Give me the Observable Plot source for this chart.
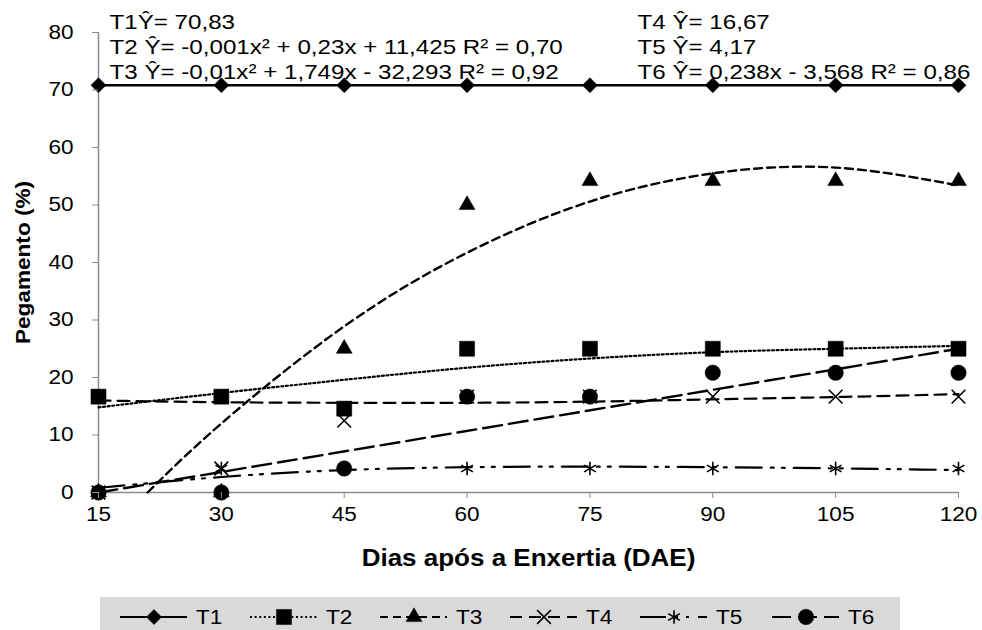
<!DOCTYPE html>
<html>
<head>
<meta charset="utf-8">
<script src="https://cdn.jsdelivr.net/npm/d3@7"></script>
<script src="https://cdn.jsdelivr.net/npm/@observablehq/plot@0.6"></script>
<style>
  body { margin: 0; background: #fff; font-family: "Liberation Sans", Arial, sans-serif; }
  #chart { position: relative; width: 982px; height: 630px; overflow: hidden; }
  #legend { position: absolute; left: 0; top: 597px; }
</style>
</head>
<body>
<div id="chart"></div>
<script>
// Days after grafting (DAE)
const days = [15, 30, 45, 60, 75, 90, 105, 120];
const yTicks = [0, 10, 20, 30, 40, 50, 60, 70, 80];

// Observed grafting success (%) per treatment
const t1 = [70.83, 70.83, 70.83, 70.83, 70.83, 70.83, 70.83, 70.83];
const t2 = [16.67, 16.67, 14.58, 25, 25, 25, 25, 25];
const t3 = [0, 0, 25, 50, 54.17, 54.17, 54.17, 54.17];
const t4 = [0, 4.17, 12.5, 16.67, 16.67, 16.67, 16.67, 16.67];
const t5 = [0, 4.17, 4.17, 4.17, 4.17, 4.17, 4.17, 4.17];
const t6 = [0, 0, 4.17, 16.67, 16.67, 20.83, 20.83, 20.83];

// Fitted trend curves
const t1FitX = [15, 120];
const t1FitY = [70.83, 70.83];
const t2FitX = days;
const t2FitY = [14.8, 17.3, 19.6, 21.7, 23.3, 24.4, 25.0, 25.5];
const t3FitX = [21, 30, 45, 60, 75, 90, 105, 120];
const t3FitY = [0, 12.0, 28.9, 41.7, 50.6, 55.5, 56.5, 53.4];
const t4FitX = days;
const t4FitY = [16.0, 15.7, 15.6, 15.6, 15.8, 16.2, 16.6, 17.1];
const t5FitX = days;
const t5FitY = [0.8, 2.7, 3.9, 4.4, 4.5, 4.4, 4.2, 3.9];
const t6FitX = [15, 120];
const t6FitY = [0.0, 25.0];

const eqLeft = [
  "T1Ŷ= 70,83",
  "T2 Ŷ= -0,001x² + 0,23x + 11,425 R² = 0,70",
  "T3 Ŷ= -0,01x² + 1,749x - 32,293 R² = 0,92"
];
const eqRight = [
  "T4 Ŷ= 16,67",
  "T5 Ŷ= 4,17",
  "T6 Ŷ= 0,238x - 3,568 R² = 0,86"
];

const series = [
  {name: "T1", obs: t1, fx: t1FitX, fy: t1FitY, symbol: "diamond2", r: 6.8, filled: true,  dash: null,           lw: 2.5},
  {name: "T2", obs: t2, fx: t2FitX, fy: t2FitY, symbol: "square",   r: 8.5, filled: true,  dash: "2,2.6",        lw: 2.2},
  {name: "T3", obs: t3, fx: t3FitX, fy: t3FitY, symbol: "triangle", r: 5.9, filled: true,  dash: "8,5",          lw: 2.4},
  {name: "T4", obs: t4, fx: t4FitX, fy: t4FitY, symbol: "times",    r: 6.3, filled: false, dash: "12,7",         lw: 2.2},
  {name: "T5", obs: t5, fx: t5FitX, fy: t5FitY, symbol: "asterisk", r: 6.4, filled: false, dash: "26,9,3,8,3,9", lw: 2.2},
  {name: "T6", obs: t6, fx: t6FitX, fy: t6FitY, symbol: "circle",   r: 7.7, filled: true,  dash: "19,7",         lw: 2.4}
];

const font = "'Liberation Sans', Arial, sans-serif";
const marks = [];
// axis lines
marks.push(Plot.ruleX([15], {stroke: "#8c8c8c", strokeWidth: 1.5}));
marks.push(Plot.ruleY([0], {stroke: "#8c8c8c", strokeWidth: 1.5}));

// trend lines
for (const s of series) {
  const rows = s.fx.map((x, i) => ({x, y: s.fy[i]}));
  marks.push(Plot.line(rows, {
    x: "x", y: "y", curve: "natural",
    stroke: "black", strokeWidth: s.lw,
    strokeDasharray: s.dash ?? undefined
  }));
}
// observed points
for (const s of series) {
  const rows = days.map((d, i) => ({x: d, y: s.obs[i]}));
  marks.push(Plot.dot(rows, {
    x: "x", y: "y", symbol: () => s.symbol, r: s.r,
    fill: s.filled ? "black" : "none",
    stroke: "black", strokeWidth: s.filled ? 0.5 : 1.6
  }));
}

// axes
marks.push(Plot.axisY(yTicks, {
  tickSize: 6, tickPadding: 19, stroke: "#8c8c8c", fill: "black",
  fontSize: 20, label: null
}));
marks.push(Plot.axisX(days, {
  tickSize: 6, tickPadding: 8, stroke: "#8c8c8c", fill: "black",
  fontSize: 20, label: null
}));

// axis titles
marks.push(Plot.text(["Dias após a Enxertia (DAE)"], {
  text: d => d, frameAnchor: "bottom", lineAnchor: "middle", textAnchor: "middle", dy: 66.5,
  fontSize: 23, fontWeight: "bold", fill: "black"
}));
marks.push(Plot.text(["Pegamento (%)"], {
  text: d => d, frameAnchor: "left", lineAnchor: "middle", textAnchor: "middle", dx: -75, rotate: -90,
  fontSize: 20, fontWeight: "bold", fill: "black"
}));

// regression equations, one line each (baselines 28, 53, 78 px)
const eqDy = [-10.7, 14.3, 39.3];
eqLeft.forEach((line, i) => {
  marks.push(Plot.text([line], {
    text: d => d, frameAnchor: "top-left", textAnchor: "start", lineAnchor: "middle",
    dx: 11, dy: eqDy[i], fontSize: 21, fill: "black"
  }));
});
eqRight.forEach((line, i) => {
  marks.push(Plot.text([line], {
    text: d => d, frameAnchor: "top-left", textAnchor: "start", lineAnchor: "middle",
    dx: 539, dy: eqDy[i], fontSize: 21, fill: "black"
  }));
});

const plot = Plot.plot({
  width: 982,
  height: 597,
  marginLeft: 98,
  marginRight: 24,
  marginTop: 32,
  marginBottom: 105,
  x: {type: "linear", domain: [15, 120]},
  y: {domain: [0, 80]},
  style: {fontFamily: font, background: "white", color: "black", overflow: "visible"},
  marks
});
const chart = document.getElementById("chart");
chart.appendChild(plot);

// legend strip
const legendX0 = [120, 250, 380, 510, 640, 772];
const lg = d3.select(chart).append("svg")
  .attr("id", "legend").attr("width", 982).attr("height", 33);
lg.append("rect").attr("x", 100).attr("y", 0).attr("width", 800).attr("height", 33).attr("fill", "#d9d9d9");
const cy = 20;
const symMap = {
  diamond2: d3.symbolDiamond2, square: d3.symbolSquare, triangle: d3.symbolTriangle,
  times: d3.symbolTimes, asterisk: d3.symbolAsterisk, circle: d3.symbolCircle
};
series.forEach((s, i) => {
  const x0 = legendX0[i];
  lg.append("line")
    .attr("x1", x0).attr("x2", x0 + 67).attr("y1", cy).attr("y2", cy)
    .attr("stroke", "black").attr("stroke-width", 1.8)
    .attr("stroke-dasharray", s.dash);
  lg.append("path")
    .attr("transform", `translate(${x0 + 34},${cy})`)
    .attr("d", d3.symbol(symMap[s.symbol], Math.PI * s.r * s.r)())
    .attr("fill", s.filled ? "black" : "none")
    .attr("stroke", "black").attr("stroke-width", s.filled ? 0.5 : 1.6);
  lg.append("text")
    .attr("x", x0 + 76).attr("y", cy).attr("dy", "0.35em")
    .attr("font-size", 20).attr("font-family", font)
    .text(s.name);
});

// slightly wide lettering throughout; the equations a touch wider still
function widen(root, k, kEq) {
  root.querySelectorAll("text").forEach(t => {
    const parts = t.querySelectorAll("tspan");
    const els = parts.length ? Array.from(parts) : [t];
    for (const el of els) {
      const len = el.getComputedTextLength();
      if (len > 0) {
        const f = el.textContent.includes("Ŷ") ? kEq : k;
        el.setAttribute("textLength", (len * f).toFixed(1));
        el.setAttribute("lengthAdjust", "spacingAndGlyphs");
      }
    }
  });
}
widen(chart, 1.13, 1.15);
</script>
</body>
</html>
